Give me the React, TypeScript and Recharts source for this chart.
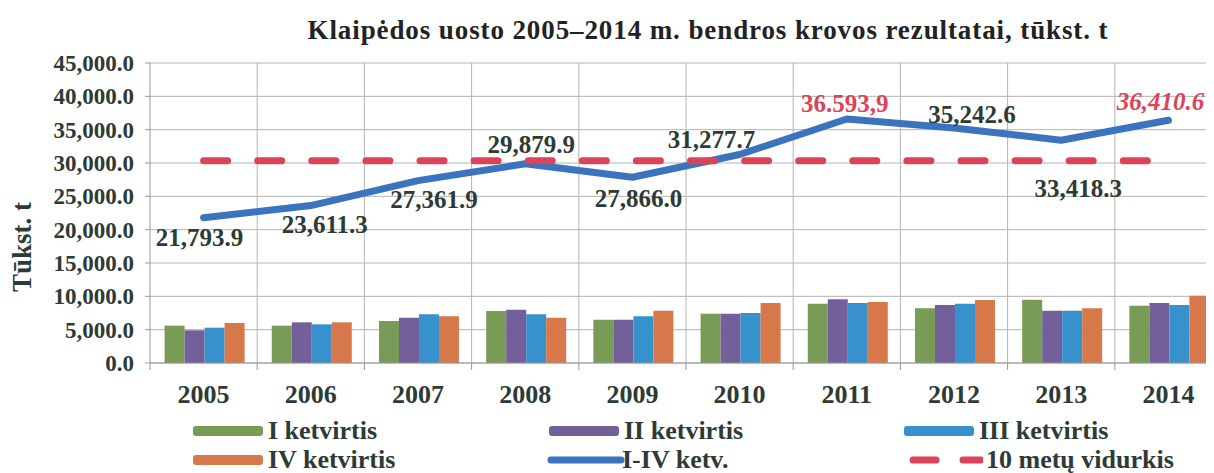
import React from 'react';
import { ComposedChart, Bar, Line, XAxis, YAxis, CartesianGrid, Legend, LabelList } from 'recharts';

const years = ['2005', '2006', '2007', '2008', '2009', '2010', '2011', '2012', '2013', '2014'];
const q1 = [5600, 5600, 6300, 7800, 6500, 7400, 8900, 8200, 9500, 8600];
const q2 = [4900, 6100, 6800, 8000, 6500, 7400, 9550, 8700, 7850, 9000];
const q3 = [5300, 5800, 7300, 7300, 7000, 7500, 9000, 8900, 7850, 8700];
const q4 = [6000, 6100, 7000, 6800, 7850, 9000, 9150, 9450, 8200, 10100];
const totals = [21793.9, 23611.3, 27361.9, 29879.9, 27866.0, 31277.7, 36593.9, 35242.6, 33418.3, 36410.6];
const average = [30345.6, 30345.6, 30345.6, 30345.6, 30345.6, 30345.6, 30345.6, 30345.6, 30345.6, 30345.6];
const totalLabels = ['21,793.9', '23,611.3', '27,361.9', '29,879.9', '27,866.0', '31,277.7', '36.593,9', '35,242.6', '33,418.3', '36,410.6'];
const yTicks = [0, 5000, 10000, 15000, 20000, 25000, 30000, 35000, 40000, 45000];

const seriesNames = ['I ketvirtis', 'II ketvirtis', 'III ketvirtis', 'IV ketvirtis', 'I-IV ketv.', '10 metų vidurkis'];

const data = years.map((y, i) => ({
  year: y,
  q1: q1[i],
  q2: q2[i],
  q3: q3[i],
  q4: q4[i],
  total: totals[i],
  avg: average[i],
}));

const FONT = '"Liberation Serif", "Times New Roman", serif';
const TEXT = '#2d3a35';
const C_GREEN = '#789b55';
const C_PURPLE = '#73609b';
const C_BLUE3 = '#3791cd';
const C_ORANGE = '#d7784b';
const C_LINE = '#3b74be';
const C_RED = '#dc4358';
const GRID = '#b4b4b4';
const AXIS = '#999';

// label placement relative to each point (dx, dy)
const labelOffsets: [number, number][] = [
  [-4, 20], [14, 19], [16, 19], [6, -19], [6, 21],
  [-28, -15], [-2, -16], [18, -14], [17, 48], [-8, -19],
];

const renderTotalLabel = (p: any) => {
  const i = p.index;
  const [dx, dy] = labelOffsets[i];
  const red = i === 6 || i === 9;
  return (
    <text
      x={p.x + dx}
      y={p.y + dy}
      textAnchor="middle"
      dominantBaseline="central"
      style={{
        fontFamily: FONT,
        fontWeight: 'bold',
        fontStyle: i === 9 ? 'italic' : 'normal',
        fontSize: 25,
        fill: red ? C_RED : TEXT,
      }}
    >
      {totalLabels[i]}
    </text>
  );
};

const fmt = (v: number) => v.toLocaleString('en-US', { minimumFractionDigits: 1, maximumFractionDigits: 1 });

const XTick = (props: any) => {
  const { x, y, payload } = props;
  const half = (payload && payload.offset) || 0;
  const axisY = y - 22;
  return (
    <g>
      <line x1={x - half} y1={axisY} x2={x - half} y2={axisY + 7} stroke={AXIS} />
      {payload.index === years.length - 1 && (
        <line x1={x + half} y1={axisY} x2={x + half} y2={axisY + 7} stroke={AXIS} />
      )}
      <text
        x={x}
        y={y}
        dy="0.71em"
        textAnchor="middle"
        style={{ fontFamily: FONT, fontWeight: 'bold', fontSize: 26, fill: TEXT }}
      >
        {payload.value}
      </text>
    </g>
  );
};

const legendItems = [
  { name: seriesNames[0], kind: 'bar', color: C_GREEN, x: 184, row: 0 },
  { name: seriesNames[1], kind: 'bar', color: C_PURPLE, x: 540, row: 0 },
  { name: seriesNames[2], kind: 'bar', color: C_BLUE3, x: 895, row: 0 },
  { name: seriesNames[3], kind: 'bar', color: C_ORANGE, x: 184, row: 1 },
  { name: seriesNames[4], kind: 'line', color: C_LINE, x: 538, row: 1 },
  { name: seriesNames[5], kind: 'dash', color: C_RED, x: 895, row: 1 },
];

const renderLegend = () => (
  <div style={{ position: 'relative', width: 1230, height: 66 }}>
    {legendItems.map((it) => (
      <div
        key={it.name}
        style={{
          position: 'absolute',
          left: it.x,
          top: it.row * 29,
          height: 32,
          display: 'flex',
          alignItems: 'center',
          whiteSpace: 'nowrap',
        }}
      >
        <svg width={80} height={14} style={{ display: 'block' }}>
          {it.kind === 'bar' && <rect x={1} y={2} width={70} height={10} rx={3} fill={it.color} />}
          {it.kind === 'line' && (
            <line x1={5} y1={7} x2={75} y2={7} stroke={it.color} strokeWidth={7} strokeLinecap="round" />
          )}
          {it.kind === 'dash' && (
            <line x1={10} y1={7} x2={78} y2={7} stroke={it.color} strokeWidth={7} strokeLinecap="round" strokeDasharray="23 27" />
          )}
        </svg>
        <span
          style={{
            fontFamily: FONT,
            fontWeight: 'bold',
            fontSize: 26,
            color: TEXT,
            marginLeft: it.kind === 'dash' ? 3 : -4,
            lineHeight: '32px',
          }}
        >
          {it.name}
        </span>
      </div>
    ))}
  </div>
);

const YLabel = (props: any) => {
  const vb = props.viewBox || {};
  const x = 14;
  const y = (vb.y || 55) + (vb.height || 300) / 2 + 34;
  return (
    <text
      x={x}
      y={y}
      transform={`rotate(-90, ${x}, ${y})`}
      textAnchor="middle"
      dominantBaseline="central"
      style={{ fontFamily: FONT, fontWeight: 'bold', fontSize: 27, fill: TEXT }}
    >
      Tūkst. t
    </text>
  );
};

export default function App() {
  return (
    <div style={{ position: 'relative', width: 1206, height: 465, overflow: 'hidden', background: '#fff', fontFamily: FONT }}>
      <div
        style={{
          position: 'absolute',
          left: 0,
          width: 1400,
          top: 6,
          textAlign: 'center',
          fontFamily: FONT,
          fontWeight: 'bold',
          fontSize: 27,
          lineHeight: '32px',
          letterSpacing: '0.9px',
          color: '#222',
          zIndex: 2,
          pointerEvents: 'none',
        }}
      >
        Klaipėdos uosto 2005–2014 m. bendros krovos rezultatai, tūkst. t
      </div>
      <ComposedChart
        width={1230}
        height={465}
        data={data}
        margin={{ top: 55, right: 16, bottom: 4, left: 0 }}
        barCategoryGap="13.6%"
        barGap={0}
        style={{ fontFamily: FONT }}
      >
        <CartesianGrid
          stroke={GRID}
          vertical={true}
          horizontal={true}
          verticalCoordinatesGenerator={({ offset }: any) =>
            years.map((_, i) => offset.left + (i + 1) * (offset.width / years.length))
          }
        />
        <XAxis
          dataKey="year"
          tickLine={false}
          tickSize={6}
          tickMargin={16}
          height={40}
          axisLine={{ stroke: AXIS }}
          tick={<XTick />}
          interval={0}
        />
        <YAxis
          width={142}
          domain={[0, 45000]}
          ticks={yTicks}
          tickFormatter={fmt}
          axisLine={{ stroke: AXIS }}
          tickLine={{ stroke: AXIS }}
          tickSize={5}
          tickMargin={11}
          tick={{ fontWeight: 'bold', fontSize: 23, fill: TEXT, style: { fontFamily: FONT } }}
          label={<YLabel />}
        />
        <Legend verticalAlign="bottom" content={renderLegend} wrapperStyle={{ left: 0, top: 407, bottom: 'auto', width: 1230, height: 66 }} />
        <Bar dataKey="q1" name={seriesNames[0]} fill={C_GREEN} isAnimationActive={false} />
        <Bar dataKey="q2" name={seriesNames[1]} fill={C_PURPLE} isAnimationActive={false} />
        <Bar dataKey="q3" name={seriesNames[2]} fill={C_BLUE3} isAnimationActive={false} />
        <Bar dataKey="q4" name={seriesNames[3]} fill={C_ORANGE} isAnimationActive={false} />
        <Line
          dataKey="total"
          name={seriesNames[4]}
          stroke={C_LINE}
          strokeWidth={7}
          strokeLinecap="round"
          strokeLinejoin="round"
          dot={false}
          activeDot={false}
          isAnimationActive={false}
        >
          <LabelList dataKey="total" content={renderTotalLabel} />
        </Line>
        <Line
          dataKey="avg"
          name={seriesNames[5]}
          stroke={C_RED}
          strokeWidth={7}
          strokeLinecap="round"
          strokeDasharray="24 30.1"
          dot={false}
          activeDot={false}
          isAnimationActive={false}
        />
      </ComposedChart>
    </div>
  );
}
